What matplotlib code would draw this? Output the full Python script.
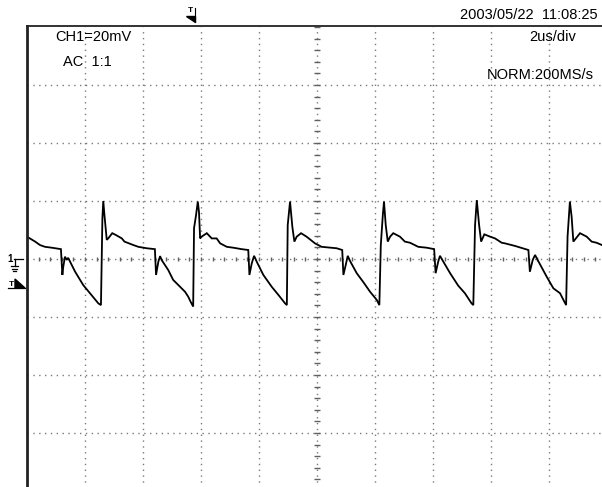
import numpy as np
import matplotlib
matplotlib.use('Agg')
from matplotlib import pyplot as plt
from matplotlib.patches import Polygon

# trace: time (us) and voltage (mV)
time_us = [0.00, 0.28, 0.45, 0.62, 0.85, 1.17, 1.22, 1.25, 1.31, 1.37, 1.42, 1.66, 1.94, 2.17, 2.46, 2.55,
           2.60, 2.63, 2.67, 2.75, 2.80, 2.94, 3.06, 3.27, 3.36,
           3.67, 3.84, 4.13, 4.41, 4.45, 4.53, 4.59, 4.64, 4.87, 5.04, 5.28, 5.45, 5.56, 5.64, 5.73,
           5.76, 5.83, 5.89, 5.93, 5.97, 6.02, 6.20, 6.37, 6.54, 6.66,
           6.89, 7.11, 7.40, 7.63, 7.67, 7.75, 7.83, 7.92, 8.15, 8.44, 8.67, 8.90, 8.96,
           8.99, 9.07, 9.15, 9.22, 9.30, 9.45, 9.64, 9.93,
           10.16, 10.45, 10.68, 10.87, 10.91, 10.99, 11.06, 11.14, 11.37, 11.60, 11.83, 12.06, 12.15,
           12.20, 12.27, 12.31, 12.37, 12.44, 12.52, 12.63, 12.86, 13.03, 13.21,
           13.49, 13.78, 14.04, 14.09, 14.18, 14.24, 14.32, 14.59, 14.87, 15.10, 15.33, 15.39,
           15.45, 15.51, 15.59, 15.66, 15.77, 15.97, 16.14, 16.37, 16.48,
           16.83, 17.29, 17.34, 17.44, 17.52, 17.58, 17.92, 18.15, 18.38, 18.59,
           18.64, 18.72, 18.78, 18.84, 19.07, 19.30, 19.47, 19.64, 19.83]
volt_mv = [7.7, 6.0, 4.8, 4.2, 3.9, 3.4, -5.5, -2.7, 0.8, -0.3, 0.4, -4.4, -9.0, -11.8, -15.3, -15.9,
           14.0, 20.0, 15.2, 6.6, 7.1, 8.9, 8.3, 7.1, 6.0,
           4.8, 4.2, 3.7, 3.4, -5.5, -0.9, 1.0, -0.3, -3.8, -7.2, -9.6, -11.3, -13.0, -14.7, -16.4,
           10.6, 15.2, 19.8, 16.3, 7.1, 7.7, 8.9, 7.1, 7.1, 5.4,
           4.2, 3.9, 3.4, 3.1, -5.5, -1.5, 1.1, -0.9, -5.5, -9.6, -12.4, -15.3, -15.9,
           11.7, 19.8, 11.1, 6.0, 7.7, 8.9, 7.7, 5.4,
           4.2, 3.9, 3.7, 3.1, -5.5, -2.1, 1.1, -0.7, -4.9, -8.0, -11.3, -14.1, -15.9,
           4.8, 15.2, 19.8, 11.7, 6.0, 7.7, 8.9, 7.7, 6.0, 5.6,
           4.2, 3.9, 3.4, -4.9, -0.9, 1.1, -0.3, -4.9, -9.2, -11.8, -15.3, -15.9,
           11.7, 20.3, 11.7, 6.0, 8.5, 7.7, 7.1, 5.6, 5.4,
           4.5, 3.1, -4.4, -0.3, 1.4, 0.2, -6.1, -10.1, -11.8, -15.9,
           7.7, 19.8, 14.6, 6.0, 8.9, 7.7, 6.0, 5.6, 4.8]

us_per_div = 2
mv_per_div = 20
n_xdiv = 10
n_ydiv = 8

W, H = 602, 487
fig = plt.figure(figsize=(W / 100, H / 100), dpi=100)
fig.patch.set_facecolor('white')

# screen: 27..607 px wide, 27..491 px tall (cut by the figure edge)
ax = fig.add_axes((27 / W, (H - 491) / H, 580 / W, 464 / H))
ax.set_xlim(0, n_xdiv * us_per_div)
ax.set_ylim(-n_ydiv / 2 * mv_per_div, n_ydiv / 2 * mv_per_div)
ax.axis('off')

grid_kw = dict(color='#7a7a7a', lw=1.0, dashes=(1, 3.2))
for i in range(1, n_xdiv):
    ax.axvline(i * us_per_div, **grid_kw)
for j in range(1, n_ydiv):
    ax.axhline((j - n_ydiv / 2) * mv_per_div, **grid_kw)

# small ticks on the centre cross, 5 per division
xc = n_xdiv / 2 * us_per_div
tx = np.arange(0, n_xdiv * us_per_div + 0.01, us_per_div / 5)
ty = np.arange(-n_ydiv / 2 * mv_per_div, n_ydiv / 2 * mv_per_div + 0.01, mv_per_div / 5)
ax.vlines(tx, -0.75, 0.75, color='#606060', lw=1.0)
ax.hlines(ty, xc - 0.11, xc + 0.11, color='#606060', lw=1.0)

ax.plot(time_us, volt_mv, color='black', lw=1.3, solid_joinstyle='miter')

# overlay in pixel units for the frame and screen annotations
ov = fig.add_axes((0, 0, 1, 1))
ov.set_xlim(0, W)
ov.set_ylim(H, 0)
ov.axis('off')
ov.patch.set_alpha(0)

ov.plot([27, W], [26, 26], color='#222222', lw=1.3)
ov.plot([27, 27], [26, H], color='#222222', lw=2.0)

font = dict(family='Liberation Sans', fontsize=10.5, color='black')
ov.text(55, 37, 'CH1=20mV', ha='left', va='center', **font)
ov.text(63, 62, 'AC  1:1', ha='left', va='center', **font)
ov.text(598, 15, '2003/05/22  11:08:25', ha='right', va='center', **font)
ov.text(576, 37, '2us/div', ha='right', va='center', **font)
ov.text(594, 75, 'NORM:200MS/s', ha='right', va='center', **font)

# trigger marker at the top
ov.text(190.5, 11, 'T', ha='center', va='center', family='Liberation Sans', fontsize=6, fontweight='bold')
ov.add_patch(Polygon([(186, 16), (195, 16), (195, 22)], closed=True, color='black'))
ov.plot([194.5, 194.5], [8, 22], color='black', lw=0.8)

# channel 1 ground marker
ov.text(10, 259, '1', ha='center', va='center', family='Liberation Sans', fontsize=7, fontweight='bold')
ov.plot([14, 23], [259, 259], color='black', lw=0.9)
ov.plot([14.5, 14.5], [259, 266], color='black', lw=0.9)
ov.plot([11, 18], [266, 266], color='black', lw=0.9)
ov.plot([12, 17], [268.5, 268.5], color='black', lw=0.9)
ov.plot([13, 16], [271, 271], color='black', lw=0.9)

# trigger level marker on the left
ov.text(11, 284, 'T', ha='center', va='center', family='Liberation Sans', fontsize=6, fontweight='bold')
ov.plot([8, 25], [288, 288], color='black', lw=0.9)
ov.add_patch(Polygon([(15, 279), (25, 288), (15, 288)], closed=True, color='black'))

fig.savefig('out.png', dpi=100)
